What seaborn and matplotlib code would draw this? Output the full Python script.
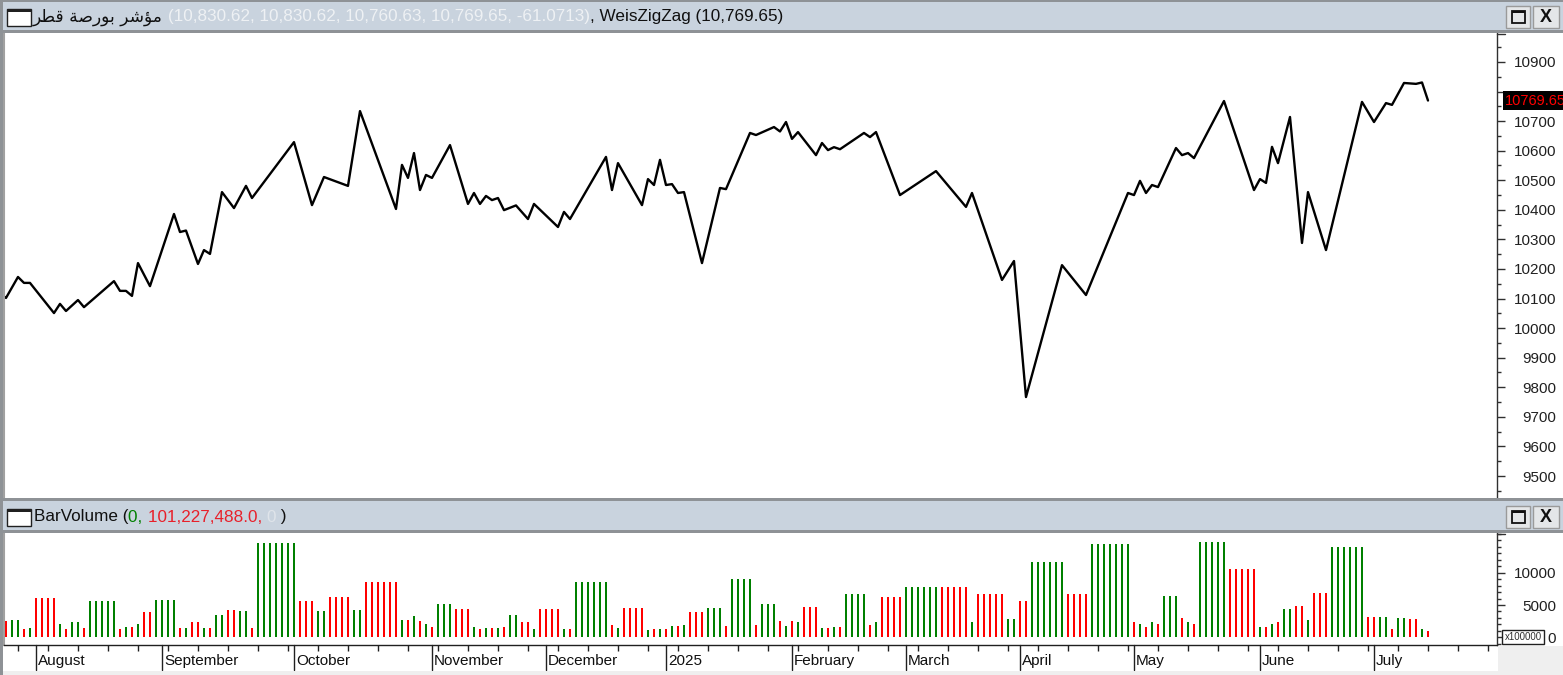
import numpy as np
import pandas as pd
import seaborn as sns
import matplotlib.pyplot as plt
from matplotlib.patches import Rectangle
from matplotlib.lines import Line2D
from matplotlib.ticker import MultipleLocator, FixedLocator
from matplotlib.transforms import blended_transform_factory

# =========================================================
# Data
# =========================================================

# WeisZigZag pivots: trading-day index and index value
zz_idx = [-1, 0, 2, 3, 4, 8, 9, 10, 12, 13, 18, 19, 20, 21, 22, 24, 28, 29, 30, 32,
          33, 34, 36, 38, 40, 41, 48, 51, 53, 57, 59, 65, 66, 67, 68, 69, 70, 71, 74, 77,
          78, 79, 80, 81, 82, 83, 85, 87, 88, 92, 93, 94, 100, 101, 102, 106, 107, 108, 109, 110,
          111, 112, 113, 116, 119, 120, 124, 125, 128, 129, 130, 131, 132, 135, 136, 137, 138, 139, 143, 144,
          145, 149, 155, 160, 161, 166, 168, 170, 176, 180, 187, 188, 189, 190, 191, 192, 195, 196, 197, 198,
          203, 208, 209, 210, 211, 212, 214, 216, 217, 220, 226, 228, 230, 231, 233, 235, 236, 237]
zz_val = [10118, 10102, 10173, 10153, 10153, 10051, 10082, 10058, 10095, 10071, 10159, 10126, 10126, 10109, 10220, 10142, 10386, 10325, 10330, 10217,
          10264, 10251, 10460, 10406, 10481, 10440, 10629, 10416, 10511, 10481, 10734, 10403, 10552, 10508, 10592, 10467, 10518, 10508, 10619, 10420,
          10457, 10420, 10447, 10433, 10440, 10399, 10415, 10369, 10420, 10342, 10393, 10369, 10579, 10467, 10558, 10416, 10504, 10484, 10569, 10484,
          10487, 10457, 10460, 10220, 10474, 10470, 10660, 10653, 10680, 10665, 10697, 10640, 10663, 10585, 10626, 10602, 10612, 10605, 10660, 10646,
          10663, 10450, 10531, 10410, 10457, 10163, 10227, 9767, 10213, 10112, 10457, 10450, 10498, 10457, 10484, 10477, 10609, 10585, 10592, 10575,
          10768, 10467, 10504, 10491, 10613, 10558, 10714, 10288, 10460, 10264, 10765, 10697, 10761, 10755, 10829, 10826, 10830.72, 10769.65]

# BarVolume waves (bars per wave, volume x100000, 1 = up wave / 0 = down wave)
wave_len = [1, 2, 1, 1, 4, 1, 1, 2, 1, 5, 1, 1, 1, 1, 2, 4, 1, 1, 2, 1, 1, 2, 2, 2, 1, 7, 3, 2, 4, 2, 6,
            1, 1, 1, 1, 1, 1, 3, 3, 1, 1, 1, 1, 1, 1, 2, 2, 1, 4, 1, 1, 6, 1, 1, 4,
            1, 1, 1, 1, 1, 1, 1, 3, 3, 1, 4, 1, 3, 1, 1, 1, 1, 3, 1, 1, 1, 1, 4, 1, 1, 4,
            6, 5, 1, 5, 2, 2, 6, 4, 7, 1, 1, 1, 1, 1, 3, 1, 1, 1,
            5, 5, 1, 1, 1, 1, 2, 2, 1, 3, 6, 2, 2, 1, 2, 2, 1, 1]
wave_vol = [2500, 2700, 1300, 1500, 6100, 2100, 1300, 2400, 1500, 5600, 1300, 1600, 1600, 2000, 3900, 5700,
            1500, 1500, 2300, 1500, 1500, 3400, 4200, 4000, 1500, 14600, 5600, 4000, 6300, 4200, 8500,
            2700, 2700, 3300, 2500, 2100, 1600, 5200, 4400, 1600, 1300, 1500, 1500, 1500, 1600, 3400, 2300,
            1300, 4400, 1300, 1300, 8500, 1900, 1500, 4600,
            1200, 1300, 1300, 1300, 1700, 1700, 1900, 3900, 4600, 1700, 9000, 1900, 5200, 2500, 1700, 2500,
            2300, 4700, 1500, 1500, 1600, 1600, 6700, 1900, 2300, 6300,
            7800, 7800, 2400, 6700, 2800, 5600, 11700, 6700, 14500, 2300, 2000, 1600, 2400, 2000, 6400, 3000,
            2400, 2000,
            14800, 10600, 1600, 1600, 2000, 2400, 4400, 4900, 2700, 6900, 14000, 3200, 3200, 1300, 3000, 2800,
            1300, 1012]
wave_up = [0, 1, 0, 1, 0, 1, 0, 1, 0, 1, 0, 1, 0, 1, 0, 1, 0, 1, 0, 1, 0, 1, 0, 1, 0, 1, 0, 1, 0, 1, 0,
           1, 0, 1, 0, 1, 0, 1, 0, 1, 0, 1, 0, 1, 0, 1, 0, 1, 0, 1, 0, 1, 0, 1, 0,
           1, 0, 1, 0, 1, 0, 1, 0, 1, 0, 1, 0, 1, 0, 1, 0, 1, 0, 1, 0, 1, 0, 1, 0, 1, 0,
           1, 0, 1, 0, 1, 0, 1, 0, 1, 0, 1, 0, 1, 0, 1, 0, 1, 0,
           1, 0, 1, 0, 1, 0, 1, 0, 1, 0, 1, 0, 1, 0, 1, 0, 1, 0]

# month labels and index of first trading day of each month
month_names = ['August', 'September', 'October', 'November', 'December', '2025',
               'February', 'March', 'April', 'May', 'June', 'July']
month_start = [5, 26, 48, 71, 90, 110, 131, 150, 169, 188, 209, 228]

price_ticks = list(range(9500, 10901, 100))
vol_ticks = [0, 5000, 10000]
vol_tick_labels = ['0', '5000', '10000']

last_close = 10769.65
# "Qatar Exchange Index" in Arabic, written in presentation forms (visual order)
title_ar = '\ufeae\ufec4\ufed7 \ufe94\ufebb\ufead\ufeee\ufe91 \ufeae\ufeb7\ufe86\ufee3'
ohlc_text = '(10,830.62, 10,830.62, 10,760.63, 10,769.65, -61.0713)'
zz_text = ', WeisZigZag (10,769.65)'

# =========================================================
# Style
# =========================================================

sns.set_theme(style='white')
plt.rcParams['font.family'] = ['Liberation Sans', 'DejaVu Sans']

GREEN = '#008000'
RED = '#ff0000'
BAR_BG = '#c9d3de'
EDGE = '#8e9296'

W, H = 1563, 675
fig = plt.figure(figsize=(W / 100, H / 100), dpi=100)
fig.patch.set_facecolor('white')


def fx(x):
    return x / W


def fy(y):
    return 1 - y / H


def frect(x0, y0, x1, y1, **kw):
    kw.setdefault('zorder', 5)
    r = Rectangle((fx(x0), fy(y1)), fx(x1) - fx(x0), fy(y0) - fy(y1),
                  transform=fig.transFigure, **kw)
    fig.patches.append(r)
    return r


ax_p = fig.add_axes([fx(4), fy(497), fx(1497) - fx(4), fy(33) - fy(497)])
ax_v = fig.add_axes([fx(4), fy(645), fx(1497) - fx(4), fy(533) - fy(645)])

XMIN, XMAX = -0.33, 248.5

# =========================================================
# Price panel
# =========================================================

sns.lineplot(x=zz_idx, y=zz_val, ax=ax_p, color='black', linewidth=1.7)
ax_p.set_xlim(XMIN, XMAX)
ax_p.set_ylim(9429, 10998)
ax_p.set_xlabel('')
ax_p.set_ylabel('')
ax_p.set_xticks([])
ax_p.yaxis.tick_right()
ax_p.yaxis.set_major_locator(FixedLocator(price_ticks))
ax_p.set_yticklabels(['' if v == 10800 else str(v) for v in price_ticks])
ax_p.yaxis.set_minor_locator(MultipleLocator(50))

# =========================================================
# Volume panel
# =========================================================

vol = np.repeat(wave_vol, wave_len)
up = np.repeat(wave_up, wave_len)
df_vol = pd.DataFrame({'day': np.arange(len(vol)), 'volume': vol,
                       'dir': np.where(up == 1, 'up', 'down')})

sns.barplot(data=df_vol, x='day', y='volume', hue='dir',
            palette={'up': GREEN, 'down': RED}, native_scale=True, dodge=False,
            width=0.45, linewidth=0, saturation=1, errorbar=None, legend=False, ax=ax_v)
ax_v.set_xlim(XMIN, XMAX)
ax_v.set_ylim(-1190, 16150)
ax_v.set_xlabel('')
ax_v.set_ylabel('')
ax_v.yaxis.tick_right()
ax_v.yaxis.set_major_locator(FixedLocator(vol_ticks))
ax_v.set_yticklabels(vol_tick_labels)
ax_v.yaxis.set_minor_locator(MultipleLocator(1000))
ax_v.set_xticks(list(range(2, 249, 5)))
ax_v.set_xticklabels([])

# month separators and labels
trans = blended_transform_factory(ax_v.transData, ax_v.transAxes)
for name, pos in zip(month_names, month_start):
    ax_v.add_line(Line2D([pos, pos], [0, -0.225], transform=trans, color='#202020',
                         lw=1, clip_on=False))
    ax_v.text(pos + 0.35, -0.14, name, transform=trans, fontsize=11, color='#101010',
              ha='left', va='center', clip_on=False)

# =========================================================
# Axis styling common to both panels
# =========================================================

for ax in (ax_p, ax_v):
    ax.set_facecolor('white')
    for s in ('top', 'bottom'):
        ax.spines[s].set_visible(False)
    ax.spines['left'].set_color('#a0a0a0')
    ax.spines['left'].set_linewidth(1.5)
    ax.spines['right'].set_color('#303030')
    ax.spines['right'].set_linewidth(1.0)
    ax.tick_params(axis='y', which='major', direction='out', length=6, width=1,
                   color='#303030', labelsize=11, labelcolor='#202020', pad=36.5,
                   left=False, right=True)
    ax.tick_params(axis='y', which='minor', direction='out', length=3, width=1,
                   color='#303030', left=False, right=True)
    for lab in ax.get_yticklabels():
        lab.set_horizontalalignment('right')

ax_v.spines['bottom'].set_visible(True)
ax_v.spines['bottom'].set_color('#202020')
ax_v.spines['bottom'].set_linewidth(1.0)
ax_v.tick_params(axis='x', which='major', direction='out', length=4, width=1,
                 color='#202020', bottom=True)

# last value tag on the price scale
tag_trans = blended_transform_factory(fig.transFigure, ax_p.transData)
ax_p.text(fx(1505), last_close, '10769.65', transform=tag_trans, color=RED, fontsize=10.5,
          ha='left', va='center', clip_on=False, zorder=10,
          bbox=dict(facecolor='black', edgecolor='none', pad=1.6))

# multiplier box on volume scale
fig.text(fx(1523), fy(637), 'x100000', fontsize=7, color='#303030', ha='center', va='center',
         zorder=10, bbox=dict(facecolor='white', edgecolor='#202020', linewidth=1, pad=1.5))

# small stubs at the top of the right scales
for ytop in (34, 534):
    fig.add_artist(Line2D([fx(1497), fx(1505)], [fy(ytop), fy(ytop)], color='#303030', lw=1))

# =========================================================
# Window frames, title bars and header text
# =========================================================

# grey areas outside the plotting region
frect(1497.5, 646, W, H, facecolor='#efefef', edgecolor='none', zorder=1)
frect(0, 671, W, H, facecolor='#efefef', edgecolor='none', zorder=1)

# title bars
frect(0, 0, W, 32, facecolor=BAR_BG, edgecolor='none')
frect(0, 0, W, 1.5, facecolor=EDGE, edgecolor='none')
frect(0, 30, W, 33, facecolor=EDGE, edgecolor='none')
frect(0, 498, W, 532, facecolor=BAR_BG, edgecolor='none')
frect(0, 498, W, 501, facecolor=EDGE, edgecolor='none')
frect(0, 530, W, 533, facecolor=EDGE, edgecolor='none')
frect(0, 0, 2.5, H, facecolor=EDGE, edgecolor='none')


def window_icon(y0):
    frect(7, y0, 31, y0 + 17, facecolor='white', edgecolor='#202020', linewidth=1, zorder=6)
    frect(7, y0, 31, y0 + 3, facecolor='#202020', edgecolor='none', zorder=7)


def buttons(y0):
    frect(1506, y0, 1530, y0 + 22, facecolor='#e4e6e8', edgecolor='#9a9a9a', linewidth=1, zorder=6)
    frect(1533, y0, 1559, y0 + 22, facecolor='#e4e6e8', edgecolor='#9a9a9a', linewidth=1, zorder=6)
    frect(1511.5, y0 + 5, 1524.5, y0 + 17, facecolor='none', edgecolor='#101010', linewidth=1.3, zorder=7)
    frect(1511.5, y0 + 5, 1524.5, y0 + 7, facecolor='#101010', edgecolor='none', zorder=7)
    fig.text(fx(1546), fy(y0 + 11), 'X', fontsize=13, fontweight='bold', color='#101010',
             ha='center', va='center', zorder=8)


window_icon(9)
window_icon(509)
buttons(6)
buttons(506)

renderer = fig.canvas.get_renderer()


def chain_text(x_px, y_px, parts, size=12.3):
    x = fx(x_px)
    for s, color, fam in parts:
        t = fig.text(x, fy(y_px), s, color=color, fontsize=size, family=fam,
                     ha='left', va='center', zorder=8)
        bb = t.get_window_extent(renderer)
        x = bb.x1 / fig.bbox.width


chain_text(33, 17, [(title_ar, '#101010', ['DejaVu Sans']),
                    (' ', '#101010', ['Liberation Sans']),
                    (ohlc_text, '#eef1f4', ['Liberation Sans']),
                    (zz_text, '#101010', ['Liberation Sans'])])

chain_text(34, 517, [('BarVolume (', '#101010', ['Liberation Sans']),
                     ('0, ', GREEN, ['Liberation Sans']),
                     ('101,227,488.0, ', '#e8202a', ['Liberation Sans']),
                     ('0', '#dfe4ea', ['Liberation Sans']),
                     (' )', '#101010', ['Liberation Sans'])])

fig.savefig('out.png', dpi=100)
